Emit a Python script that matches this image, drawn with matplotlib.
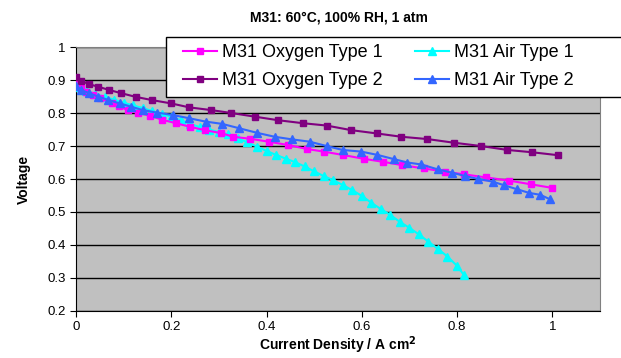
import matplotlib
matplotlib.use("Agg")
import matplotlib.pyplot as plt
from matplotlib.patches import Rectangle

# M31 Oxygen Type 1 (magenta squares)
o1_x = [0.0, 0.01, 0.02, 0.035, 0.05, 0.075, 0.09, 0.11, 0.13, 0.155, 0.18, 0.21,
        0.24, 0.27, 0.305, 0.33, 0.365, 0.405, 0.445, 0.485, 0.52, 0.56, 0.605,
        0.645, 0.685, 0.73, 0.775, 0.815, 0.86, 0.91, 0.955, 1.0]
o1_y = [0.890, 0.875, 0.865, 0.855, 0.845, 0.830, 0.820, 0.808, 0.800, 0.792,
        0.780, 0.769, 0.758, 0.748, 0.739, 0.728, 0.722, 0.713, 0.703, 0.691,
        0.683, 0.673, 0.661, 0.652, 0.642, 0.632, 0.622, 0.614, 0.605, 0.595,
        0.584, 0.573]

# M31 Oxygen Type 2 (purple squares)
o2_x = [0.0, 0.01, 0.028, 0.046, 0.069, 0.095, 0.125, 0.16, 0.2, 0.238, 0.283,
        0.326, 0.375, 0.425, 0.477, 0.526, 0.578, 0.632, 0.683, 0.738, 0.793,
        0.85, 0.906, 0.958, 1.013]
o2_y = [0.910, 0.898, 0.887, 0.880, 0.870, 0.860, 0.849, 0.839, 0.829, 0.817,
        0.809, 0.800, 0.789, 0.778, 0.769, 0.762, 0.748, 0.738, 0.728, 0.721,
        0.710, 0.700, 0.688, 0.681, 0.672]

# M31 Air Type 1 (cyan triangles)
a1_x = [0.0, 0.02, 0.04, 0.06, 0.08, 0.10, 0.12, 0.14, 0.16, 0.18, 0.20, 0.22,
        0.24, 0.26, 0.28, 0.30, 0.32, 0.34, 0.36, 0.38, 0.40, 0.42, 0.44, 0.46,
        0.48, 0.50, 0.52, 0.54, 0.56, 0.58, 0.60, 0.62, 0.64, 0.66, 0.68, 0.70,
        0.72, 0.74, 0.76, 0.78, 0.80, 0.815]
a1_y = [0.880, 0.868, 0.858, 0.849, 0.840, 0.831, 0.823, 0.815, 0.806, 0.797,
        0.789, 0.778, 0.767, 0.757, 0.750, 0.742, 0.735, 0.723, 0.711, 0.698,
        0.685, 0.673, 0.662, 0.651, 0.638, 0.623, 0.609, 0.596, 0.582, 0.566,
        0.549, 0.528, 0.509, 0.491, 0.470, 0.452, 0.432, 0.410, 0.388, 0.365,
        0.337, 0.308]

# M31 Air Type 2 (blue triangles)
a2_x = [0.0, 0.01, 0.028, 0.046, 0.067, 0.092, 0.116, 0.14, 0.171, 0.203, 0.238,
        0.272, 0.307, 0.342, 0.38, 0.417, 0.454, 0.491, 0.526, 0.56, 0.599,
        0.633, 0.668, 0.696, 0.725, 0.76, 0.79, 0.817, 0.845, 0.875, 0.899,
        0.926, 0.951, 0.975, 0.996]
a2_y = [0.882, 0.870, 0.860, 0.850, 0.840, 0.829, 0.819, 0.809, 0.801, 0.794,
        0.784, 0.774, 0.767, 0.754, 0.740, 0.728, 0.720, 0.713, 0.700, 0.688,
        0.683, 0.673, 0.660, 0.650, 0.644, 0.629, 0.619, 0.609, 0.600, 0.592,
        0.581, 0.569, 0.558, 0.552, 0.538]

x_ticks = [0, 0.2, 0.4, 0.6, 0.8, 1]
x_labels = ["0", "0.2", "0.4", "0.6", "0.8", "1"]
y_ticks = [0.2, 0.3, 0.4, 0.5, 0.6, 0.7, 0.8, 0.9, 1]
y_labels = ["0.2", "0.3", "0.4", "0.5", "0.6", "0.7", "0.8", "0.9", "1"]

plt.rcParams['font.family'] = ['Liberation Sans', 'DejaVu Sans']

fig = plt.figure(figsize=(6.21, 3.58), dpi=100)
ax = fig.add_axes([0.1224, 0.1313, 0.8436, 0.7374])
ax.set_facecolor('#C0C0C0')

# order so that the 2-column legend reads row by row like the original
ax.plot(o1_x, o1_y, color='#FF00FF', marker='s', markersize=5, lw=1.5,
        label='M31 Oxygen Type 1', zorder=4)
ax.plot(o2_x, o2_y, color='#800080', marker='s', markersize=5, lw=1.5,
        label='M31 Oxygen Type 2', zorder=4)
ax.plot(a1_x, a1_y, color='#00FFFF', marker='^', markersize=6, lw=1.5,
        label='M31 Air Type 1', zorder=3)
ax.plot(a2_x, a2_y, color='#3366FF', marker='^', markersize=6, lw=1.5,
        label='M31 Air Type 2', zorder=5)

ax.set_xlim(0, 1.1)
ax.set_ylim(0.2, 1)
ax.set_xticks(x_ticks)
ax.set_xticklabels(x_labels)
ax.set_yticks(y_ticks)
ax.set_yticklabels(y_labels)
ax.tick_params(labelsize=9.5, length=4, direction='out', color='black')
ax.grid(axis='y', color='black', lw=1)
ax.set_axisbelow(True)

for side in ['top', 'right']:
    ax.spines[side].set_color('#808080')
ax.spines['left'].set_color('black')
ax.spines['bottom'].set_color('black')

ax.set_xlabel('Current Density / A cm$^{\\mathbf{2}}$', fontsize=10,
              fontweight='bold', labelpad=1)
ax.set_ylabel('Voltage', fontsize=10, fontweight='bold', labelpad=12)
fig.text(0.545, 0.95, 'M31: 60°C, 100% RH, 1 atm', ha='center', va='center',
         fontsize=10, fontweight='bold')

# legend box runs past the right edge of the figure
fig.patches.append(Rectangle((166 / 621, 1 - 97 / 358), 0.8, 60 / 358,
                             transform=fig.transFigure, facecolor='white',
                             edgecolor='black', lw=1, zorder=6))
leg = fig.legend(loc='center left', bbox_to_anchor=(183 / 621, 1 - 66.5 / 358),
                 ncol=2, fontsize=13, frameon=False, handlelength=1.9,
                 columnspacing=1.8, borderpad=0, labelspacing=0.6,
                 handletextpad=0.25, borderaxespad=0)
leg.set_zorder(7)

fig.savefig('out.png', dpi=100, facecolor='white')
